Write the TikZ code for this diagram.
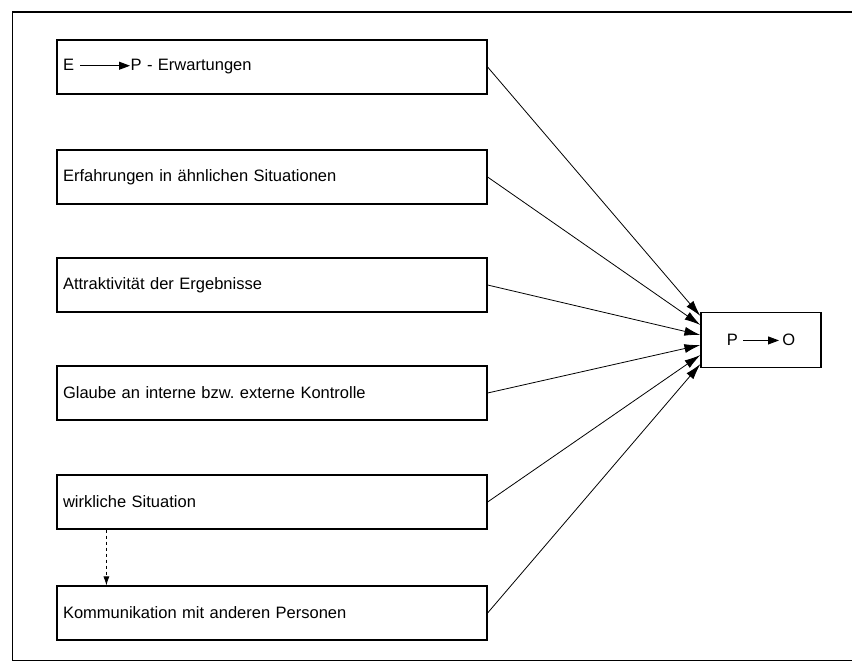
\documentclass[tikz,border=0pt]{standalone}
\usepackage{fontspec}
\setmainfont{Liberation Sans}
\usetikzlibrary{arrows.meta,positioning}

\newcommand{\pfeil}[1]{\tikz[baseline=-0.6ex]\draw[line width=1pt,-{Triangle[length=11pt,width=8pt]}] (0,0) -- (#1,0);}

\begin{document}
\begin{tikzpicture}[x=1pt, y=-1pt,
    every node/.style={font=\fontsize{16.5}{19}\selectfont},
    faktor/.style={draw, line width=1.2pt, minimum height=54pt, text width=418pt, inner sep=6pt, align=left},
    ziel/.style={draw, line width=1.2pt, minimum height=55pt, minimum width=120pt},
    pfeil/.style={line width=0.8pt, -{Latex[length=16pt,width=9pt]}}]
        \useasboundingbox (0,0) rectangle (852,664);
        % frame
        \draw[line width=0.8pt] (12,12) -- (12,660) -- (852,660);
        \draw[line width=1.6pt] (12,12) -- (852,12);

        \node[faktor] (EP) at (272,67) {E \pfeil{50pt}P - Erwartungen};
        \node[faktor] (Erf) at (272,177) {Erfahrungen in ähnlichen Situationen};
        \node[faktor] (Att) at (272,285) {Attraktivität der Ergebnisse};
        \node[faktor] (Kon) at (272,393) {Glaube an interne bzw.\ externe Kontrolle};
        \node[faktor] (Sit) at (272,502) {wirkliche Situation};
        \node[faktor] (Kom) at (272,613) {Kommunikation mit anderen Personen};
        \node[ziel] (PO) at (761,340) {P \pfeil{36pt}\,O};

        \draw[pfeil] (EP.east) to ([yshift=24pt]PO.west);
        \draw[pfeil] (Erf.east) to ([yshift=15pt]PO.west);
        \draw[pfeil] (Att.east) to ([yshift=5pt]PO.west);
        \draw[pfeil] (Kon.east) to ([yshift=-5pt]PO.west);
        \draw[pfeil] (Sit.east) to ([yshift=-15pt]PO.west);
        \draw[pfeil] (Kom.east) to ([yshift=-24pt]PO.west);
        \draw[dashed, line width=0.7pt, -{Latex[length=9pt,width=6pt]}] ([xshift=50pt]Sit.south west) to ([xshift=50pt]Kom.north west);
\end{tikzpicture}
\end{document}
